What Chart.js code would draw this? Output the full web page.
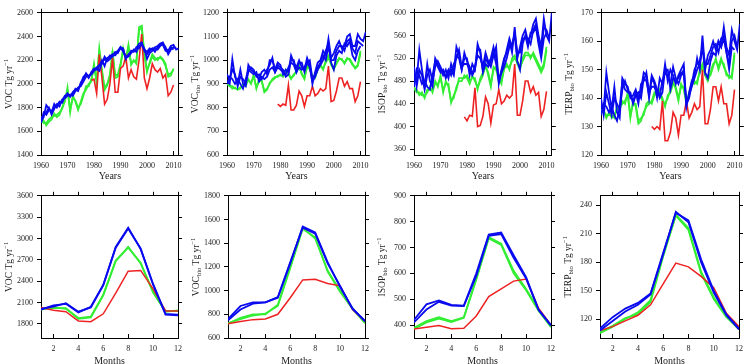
<!DOCTYPE html>
<html>
<head>
<meta charset="utf-8">
<script src="https://cdn.jsdelivr.net/npm/chart.js"></script>
<style>
  body { margin: 0; background: #fff; width: 753px; height: 364px; overflow: hidden; position: relative; }
  canvas { position: absolute; }
</style>
</head>
<body>
<canvas id="painel1" width="191" height="178" style="left:1px; top:4px"></canvas>
<canvas id="painel2" width="192" height="178" style="left:187px; top:4px"></canvas>
<canvas id="painel3" width="191" height="178" style="left:374px; top:4px"></canvas>
<canvas id="painel4" width="192" height="178" style="left:561px; top:4px"></canvas>
<canvas id="painel5" width="191" height="180" style="left:1px; top:187px"></canvas>
<canvas id="painel6" width="191" height="180" style="left:188px; top:187px"></canvas>
<canvas id="painel7" width="191" height="180" style="left:374px; top:187px"></canvas>
<canvas id="painel8" width="193" height="180" style="left:560px; top:187px"></canvas>
<script>
function listaAnos(de, ate) {
  var lista = [];
  for (var a = de; a <= ate; a++) lista.push(a);
  return lista;
}

var anos = listaAnos(1960, 2012);
var anosModelo = listaAnos(1979, 2010);
var meses = [1, 2, 3, 4, 5, 6, 7, 8, 9, 10, 11, 12];

var ticksAnos = [1960, 1970, 1980, 1990, 2000, 2010];
var ticksMeses = [2, 4, 6, 8, 10, 12];

// ---- VOC anual ----
var vocAzulA = [1680, 1720, 1820, 1790, 1760, 1830, 1800, 1840, 1860, 1900,
  1910, 1900, 1920, 1960, 1950, 2000, 2060, 2080, 2050, 2100,
  2130, 2120, 2150, 2200, 2150, 2220, 2230, 2250, 2260, 2280,
  2310, 2300, 2210, 2250, 2270, 2280, 2300, 2340, 2350, 2290,
  2270, 2300, 2290, 2310, 2320, 2340, 2350, 2300, 2280, 2320,
  2330, 2290, 2300];
var vocAzulB = [1700, 1740, 1760, 1800, 1740, 1790, 1830, 1810, 1870, 1880,
  1900, 1910, 1900, 1940, 1970, 1980, 2020, 2060, 2070, 2080,
  2110, 2130, 2110, 2180, 2210, 2190, 2210, 2240, 2240, 2270,
  2300, 2290, 2220, 2230, 2260, 2290, 2270, 2320, 2330, 2300,
  2210, 2260, 2280, 2300, 2290, 2320, 2340, 2310, 2250, 2290,
  2310, 2300];
var vocAzulC = [1670, 1760, 1740, 1780, 1770, 1800, 1820, 1850, 1840, 1890,
  1920, 1890, 1930, 1950, 1940, 2010, 2040, 2090, 2060, 2090,
  2120, 2140, 2160, 2170, 2230, 2200, 2240, 2230, 2270, 2260,
  2310, 2270, 2230, 2240, 2280, 2270, 2310, 2300, 2340, 2280,
  2250, 2280, 2300, 2270, 2310, 2330, 2330, 2280, 2270, 2310,
  2290];
var vocVerdeA = [1720, 1690, 1650, 1680, 1700, 1750, 1720, 1740, 1800, 1850,
  1970, 1760, 1900, 1850, 1780, 1850, 1920, 1950, 2000, 2020,
  2170, 2010, 2300, 2120, 1950, 1990, 2050, 2280, 2050, 2060,
  2150, 2300, 2200, 2330, 2160, 2200, 2170, 2480, 2490, 2260,
  2100, 2180, 2250, 2220, 2200, 2230, 2210, 2170, 2060, 2070,
  2130];
var vocVerdeB = [1700, 1670, 1670, 1700, 1720, 1730, 1740, 1760, 1790, 1870,
  1940, 1790, 1880, 1860, 1800, 1830, 1900, 1980, 1980, 2040,
  2150, 2030, 2270, 2100, 1970, 2000, 2080, 2260, 2070, 2080,
  2170, 2280, 2210, 2310, 2180, 2190, 2200, 2450, 2480, 2240,
  2120, 2170, 2230, 2200, 2220, 2220, 2200, 2150, 2080, 2090,
  2120];
var vocVermelho = [2030,
  2040, 1920, 2250, 2050, 1830, 1870, 2000, 2220, 1930, 1930,
  2130, 2150, 2230, 2050, 2120, 2060, 2040, 2200, 2420, 2050,
  1960, 2050, 2170, 2120, 2100, 2130, 2050, 2080, 1900, 1930,
  1990];

// ---- VOCbio anual ----
var vocBioAzulA = [910, 900, 1005, 930, 900, 960, 900, 890, 980, 960,
  950, 940, 920, 950, 960, 940, 1000, 1000, 960, 990,
  980, 940, 960, 950, 1020, 990, 970, 1000, 970, 960,
  1010, 980, 900, 950, 990, 1000, 1040, 1020, 1090, 1010,
  1030, 1060, 1080, 1050, 1060, 1100, 1110, 1060, 1060, 1110,
  1090, 1080, 1120];
var vocBioAzulB = [940, 920, 960, 940, 890, 930, 920, 900, 950, 970,
  960, 930, 940, 920, 940, 960, 980, 1010, 950, 970,
  960, 950, 940, 970, 990, 980, 950, 990, 990, 950,
  990, 1000, 920, 940, 970, 990, 1020, 1000, 1060, 1000,
  1000, 1040, 1060, 1060, 1040, 1080, 1090, 1050, 1030, 1080,
  1070, 1060];
var vocBioAzulC = [900, 930, 920, 900, 920, 900, 880, 920, 960, 950,
  940, 950, 910, 930, 920, 930, 960, 970, 950, 980,
  970, 960, 930, 940, 1000, 1000, 950, 970, 960, 970,
  990, 970, 910, 930, 960, 980, 1000, 1040, 1070, 990,
  960, 1020, 1040, 1030, 1070, 1060, 1080, 1020, 1000, 1040,
  1060];
var vocBioVerdeA = [900, 890, 890, 880, 880, 880, 900, 890, 920, 900,
  940, 880, 920, 910, 870, 880, 900, 920, 930, 930,
  940, 930, 960, 940, 920, 940, 950, 980, 940, 920,
  980, 960, 930, 930, 960, 980, 960, 1000, 1020, 980,
  960, 990, 1010, 1000, 990, 1010, 1000, 980, 970, 980,
  1040];
var vocBioVerdeB = [905, 895, 880, 885, 875, 885, 895, 900, 915, 905,
  930, 885, 910, 915, 865, 875, 905, 915, 925, 935,
  935, 935, 950, 945, 925, 935, 955, 970, 945, 925,
  970, 965, 935, 925, 965, 975, 965, 990, 1010, 985,
  965, 985, 1005, 1005, 985, 1005, 1005, 985, 965, 975,
  1030];
var vocBioVermelho = [815,
  805, 815, 810, 895, 790, 790, 810, 870, 850, 805,
  850, 850, 890, 850, 860, 880, 870, 880, 975, 825,
  830, 870, 925, 925, 890, 910, 880, 880, 825, 850,
  910];

// ---- ISOPbio anual ----
var isopAzulA = [490, 480, 535, 500, 470, 510, 480, 470, 520, 510,
  500, 490, 500, 485, 510, 495, 540, 525, 500, 520,
  520, 490, 510, 500, 545, 530, 500, 520, 510, 520,
  540, 520, 480, 500, 520, 530, 550, 530, 575, 520,
  540, 560, 570, 550, 560, 580, 590, 560, 540, 590,
  560, 550, 600];
var isopAzulB = [505, 470, 500, 490, 465, 490, 500, 480, 505, 515,
  505, 495, 490, 500, 490, 510, 520, 535, 505, 510,
  510, 500, 495, 505, 525, 520, 505, 530, 515, 505,
  525, 540, 475, 495, 515, 535, 555, 540, 565, 530,
  530, 555, 555, 555, 545, 570, 580, 550, 530, 575,
  570, 555];
var isopAzulC = [470, 500, 490, 475, 480, 470, 465, 490, 515, 505,
  495, 500, 485, 495, 500, 490, 525, 520, 500, 530,
  515, 505, 490, 500, 535, 535, 495, 510, 505, 515,
  530, 510, 485, 495, 505, 520, 540, 545, 560, 515,
  500, 545, 560, 540, 565, 565, 575, 545, 520, 555,
  565];
var isopVerdeA = [470, 460, 460, 455, 455, 460, 470, 460, 480, 470,
  490, 460, 480, 470, 445, 450, 470, 480, 480, 490,
  485, 475, 490, 480, 470, 480, 490, 510, 490, 470,
  505, 500, 480, 480, 500, 510, 500, 520, 525, 510,
  500, 520, 530, 530, 520, 530, 520, 510, 500, 510,
  540];
var isopVerdeB = [465, 465, 455, 460, 450, 465, 465, 465, 475, 475,
  485, 465, 475, 475, 442, 455, 465, 485, 485, 485,
  490, 480, 485, 485, 465, 485, 495, 505, 495, 475,
  500, 505, 485, 475, 505, 505, 505, 515, 520, 515,
  505, 515, 525, 525, 525, 525, 515, 505, 495, 505,
  535];
var isopVermelho = [417,
  410, 420, 418, 468, 400, 402, 418, 452, 440, 406,
  438, 440, 465, 440, 445, 455, 450, 455, 510, 420,
  420, 445, 480, 480, 460, 470, 455, 460, 418, 430,
  462];

// ---- TERPbio anual ----
var terpAzulA = [137, 136, 149, 142, 136, 144, 135, 133, 147, 145,
  144, 140, 141, 143, 140, 143, 149, 148, 140, 147,
  145, 140, 147, 145, 152, 146, 150, 148, 145, 148,
  150, 152, 137, 142, 146, 148, 154, 150, 162, 150,
  155, 157, 160, 157, 160, 158, 165, 158, 155, 164,
  160, 157, 166];
var terpAzulB = [140, 134, 142, 138, 134, 140, 138, 136, 143, 146,
  143, 141, 139, 142, 138, 145, 146, 149, 142, 144,
  144, 142, 141, 146, 149, 148, 145, 151, 147, 145,
  148, 150, 138, 140, 145, 150, 152, 153, 158, 152,
  152, 155, 158, 159, 156, 161, 162, 156, 152, 160,
  162, 158];
var terpAzulC = [134, 138, 137, 135, 137, 134, 132, 137, 146, 143,
  142, 142, 138, 141, 142, 140, 147, 146, 141, 148,
  146, 143, 140, 142, 150, 150, 143, 147, 146, 147,
  149, 148, 138, 141, 144, 147, 150, 152, 158, 149,
  147, 153, 156, 155, 160, 158, 161, 156, 150, 158,
  157];
var terpVerdeA = [136, 135, 134, 134, 134, 133, 137, 136, 139, 138,
  142, 133, 139, 137, 131, 132, 135, 137, 138, 139,
  142, 141, 143, 139, 138, 140, 143, 146, 143, 139,
  145, 143, 138, 142, 145, 146, 145, 150, 152, 148,
  146, 149, 152, 153, 151, 154, 151, 149, 147, 148,
  156];
var terpVerdeB = [135, 136, 133, 135, 133, 134, 136, 137, 138, 139,
  141, 134, 138, 138, 132, 133, 134, 138, 139, 138,
  141, 142, 142, 140, 137, 141, 142, 145, 144, 140,
  144, 144, 139, 141, 146, 145, 146, 149, 151, 149,
  147, 148, 151, 154, 150, 153, 152, 148, 148, 147,
  155];
var terpVermelho = [130,
  129, 130, 129, 139, 125, 125, 128, 135, 133, 127,
  134, 134, 139, 133, 135, 138, 136, 137, 150, 131,
  131, 136, 144, 144, 139, 144, 138, 138, 131, 134,
  143];

// ---- ciclo mensal ----
var vocMesAzulA = [2000, 2060, 2080, 1960, 2040, 2350, 2880, 3150, 2850, 2350, 1930, 1920];
var vocMesAzulB = [2010, 2040, 2090, 1970, 2030, 2340, 2870, 3140, 2860, 2360, 1940, 1930];
var vocMesVerdeA = [2010, 2020, 2020, 1870, 1890, 2200, 2680, 2880, 2650, 2250, 1980, 1980];
var vocMesVerdeB = [2000, 2030, 2010, 1880, 1900, 2210, 2690, 2870, 2660, 2240, 1970, 1990];
var vocMesVermelho = [2030, 1990, 1970, 1840, 1830, 1940, 2230, 2540, 2550, 2290, 1980, 1980];

var vocBioMesAzulA = [760, 870, 900, 900, 940, 1230, 1540, 1490, 1240, 1030, 850, 740];
var vocBioMesAzulB = [750, 840, 890, 900, 945, 1240, 1530, 1480, 1230, 1040, 845, 745];
var vocBioMesVerdeA = [720, 770, 800, 800, 880, 1200, 1530, 1440, 1170, 1000, 850, 730];
var vocBioMesVerdeB = [725, 760, 790, 805, 870, 1190, 1520, 1450, 1160, 990, 845, 725];
var vocBioMesVermelho = [720, 740, 755, 760, 800, 940, 1090, 1095, 1060, 1040, 840, 740];

var isopMesAzulA = [420, 480, 495, 478, 475, 600, 750, 758, 670, 585, 460, 400];
var isopMesAzulB = [410, 460, 490, 475, 473, 590, 745, 752, 660, 580, 458, 398];
var isopMesVerdeA = [390, 415, 430, 415, 430, 580, 740, 715, 610, 540, 460, 395];
var isopMesVerdeB = [385, 410, 425, 412, 428, 575, 735, 710, 600, 535, 455, 392];
var isopMesVermelho = [385, 392, 398, 386, 388, 435, 510, 540, 570, 578, 465, 400];

var terpMesAzulA = [110, 122, 131, 137, 147, 190, 232, 224, 183, 150, 125, 110];
var terpMesAzulB = [108, 118, 128, 135, 146, 188, 233, 222, 180, 148, 124, 109];
var terpMesVerdeA = [105, 112, 120, 127, 140, 188, 230, 216, 170, 143, 123, 110];
var terpMesVerdeB = [106, 113, 121, 125, 138, 186, 229, 214, 168, 141, 122, 109];
var terpMesVermelho = [108, 112, 118, 124, 135, 157, 179, 175, 165, 153, 126, 112];

var AZUL = "#0a0aee";
var VERDE = "#33ee33";
var VERMELHO = "#ee2222";
var FONTE = "Liberation Serif";

function serie(eixoX, valores, cor, largura) {
  var pontos = [];
  for (var i = 0; i < valores.length; i++) {
    pontos.push({ x: eixoX[i], y: valores[i] });
  }
  return {
    data: pontos,
    borderColor: cor,
    borderWidth: largura,
    pointRadius: 0,
    tension: 0,
    fill: false,
  };
}

function fixarTicks(lista) {
  return function (escala) {
    escala.ticks = lista.map(function (v) { return { value: v }; });
  };
}

function criarPainel(id, datasets, xMin, xMax, xTicks, yMin, yMax, yTicks, tituloX, partesY, alturaX) {
  var grade = { drawOnChartArea: false, tickLength: 4, color: "#000", lineWidth: 1 };
  // marcas do eixo de baixo ficam para dentro
  var gradeBaixo = { drawOnChartArea: false, tickLength: -4, color: "#000", lineWidth: 1 };
  var borda = { color: "#000", width: 1 };
  var fonteTick = { family: FONTE, size: 8 };

  var tituloYPlugin = {
    id: "tituloY",
    afterDraw: function (chart) {
      var ctx = chart.ctx;
      var area = chart.chartArea;
      var total = 0;
      for (var i = 0; i < partesY.length; i++) {
        ctx.font = (partesY[i].tipo ? 6.5 : 9.5) + "px '" + FONTE + "'";
        total += ctx.measureText(partesY[i].texto).width;
      }
      ctx.save();
      ctx.translate(area.left - 33, (area.top + area.bottom) / 2);
      ctx.rotate(-Math.PI / 2);
      ctx.fillStyle = "#222";
      ctx.textBaseline = "alphabetic";
      var x = -total / 2;
      for (var j = 0; j < partesY.length; j++) {
        var p = partesY[j];
        ctx.font = (p.tipo ? 6.5 : 9.5) + "px '" + FONTE + "'";
        var dy = 3.5;
        if (p.tipo === "sub") dy = 5.5;
        if (p.tipo === "sup") dy = -0.5;
        ctx.fillText(p.texto, x, dy);
        x += ctx.measureText(p.texto).width;
      }
      ctx.restore();
    },
  };

  new Chart(document.getElementById(id), {
    type: "line",
    data: { datasets: datasets },
    plugins: [tituloYPlugin],
    options: {
      responsive: false,
      animation: false,
      devicePixelRatio: 1,
      layout: { padding: 0 },
      scales: {
        x: {
          type: "linear",
          position: "bottom",
          min: xMin,
          max: xMax,
          afterBuildTicks: fixarTicks(xTicks),
          afterFit: function (escala) { escala.height = alturaX; },
          grid: gradeBaixo,
          border: borda,
          ticks: {
            font: fonteTick,
            color: "#222",
            padding: 10,
            maxRotation: 0,
            autoSkip: false,
            callback: function (v) { return String(v); },
          },
          title: {
            display: true,
            text: tituloX,
            color: "#222",
            font: { family: FONTE, size: 10 },
            padding: 0,
          },
        },
        x2: {
          type: "linear",
          position: "top",
          min: xMin,
          max: xMax,
          afterBuildTicks: fixarTicks(xTicks),
          afterFit: function (escala) { escala.height = 8; },
          grid: grade,
          border: borda,
          ticks: { display: false },
        },
        y: {
          type: "linear",
          position: "left",
          min: yMin,
          max: yMax,
          afterBuildTicks: fixarTicks(yTicks),
          afterFit: function (escala) { escala.width = 40; },
          grid: grade,
          border: borda,
          ticks: {
            font: fonteTick,
            color: "#222",
            padding: 4,
            autoSkip: false,
            callback: function (v) { return String(v); },
          },
        },
        y2: {
          type: "linear",
          position: "right",
          min: yMin,
          max: yMax,
          afterBuildTicks: fixarTicks(yTicks),
          afterFit: function (escala) { escala.width = 8; },
          grid: grade,
          border: borda,
          ticks: { display: false },
        },
      },
      plugins: {
        legend: { display: false },
        tooltip: { enabled: false },
      },
    },
  });
}

function rotuloBio(nome) {
  return [
    { texto: nome },
    { texto: "bio", tipo: "sub" },
    { texto: " Tg yr" },
    { texto: "\u22121", tipo: "sup" },
  ];
}

var rotuloVoc = [{ texto: "VOC Tg yr" }, { texto: "\u22121", tipo: "sup" }];

function conjuntoAnual(azulA, azulB, azulC, verdeA, verdeB, vermelho) {
  return [
    serie(anos, azulA, AZUL, 1.8),
    serie(anos, azulB, AZUL, 1.8),
    serie(anos, azulC, AZUL, 1.8),
    serie(anosModelo, vermelho, VERMELHO, 1.6),
    serie(anos, verdeA, VERDE, 1.8),
    serie(anos, verdeB, VERDE, 1.8),
  ];
}

function conjuntoMensal(azulA, azulB, verdeA, verdeB, vermelho) {
  return [
    serie(meses, azulA, AZUL, 1.8),
    serie(meses, azulB, AZUL, 1.8),
    serie(meses, vermelho, VERMELHO, 1.5),
    serie(meses, verdeA, VERDE, 1.8),
    serie(meses, verdeB, VERDE, 1.8),
  ];
}

criarPainel("painel1", conjuntoAnual(vocAzulA, vocAzulB, vocAzulC, vocVerdeA, vocVerdeB, vocVermelho),
  1960, 2012, ticksAnos, 1400, 2600, [1400, 1600, 1800, 2000, 2200, 2400, 2600], "Years", rotuloVoc, 27);
criarPainel("painel2", conjuntoAnual(vocBioAzulA, vocBioAzulB, vocBioAzulC, vocBioVerdeA, vocBioVerdeB, vocBioVermelho),
  1960, 2012, ticksAnos, 600, 1200, [600, 700, 800, 900, 1000, 1100, 1200], "Years", rotuloBio("VOC"), 27);
criarPainel("painel3", conjuntoAnual(isopAzulA, isopAzulB, isopAzulC, isopVerdeA, isopVerdeB, isopVermelho),
  1960, 2012, ticksAnos, 350, 600, [360, 400, 440, 480, 520, 560, 600], "Years", rotuloBio("ISOP"), 27);
criarPainel("painel4", conjuntoAnual(terpAzulA, terpAzulB, terpAzulC, terpVerdeA, terpVerdeB, terpVermelho),
  1960, 2012, ticksAnos, 120, 170, [120, 130, 140, 150, 160, 170], "Years", rotuloBio("TERP"), 27);

criarPainel("painel5", conjuntoMensal(vocMesAzulA, vocMesAzulB, vocMesVerdeA, vocMesVerdeB, vocMesVermelho),
  1, 12, ticksMeses, 1600, 3600, [1800, 2100, 2400, 2700, 3000, 3300, 3600], "Months", rotuloVoc, 29);
criarPainel("painel6", conjuntoMensal(vocBioMesAzulA, vocBioMesAzulB, vocBioMesVerdeA, vocBioMesVerdeB, vocBioMesVermelho),
  1, 12, ticksMeses, 600, 1800, [600, 800, 1000, 1200, 1400, 1600, 1800], "Months", rotuloBio("VOC"), 29);
criarPainel("painel7", conjuntoMensal(isopMesAzulA, isopMesAzulB, isopMesVerdeA, isopMesVerdeB, isopMesVermelho),
  1, 12, ticksMeses, 350, 900, [400, 500, 600, 700, 800, 900], "Months", rotuloBio("ISOP"), 29);
criarPainel("painel8", conjuntoMensal(terpMesAzulA, terpMesAzulB, terpMesVerdeA, terpMesVerdeB, terpMesVermelho),
  1, 12, ticksMeses, 100, 250, [120, 150, 180, 210, 240], "Months", rotuloBio("TERP"), 29);
</script>
</body>
</html>
